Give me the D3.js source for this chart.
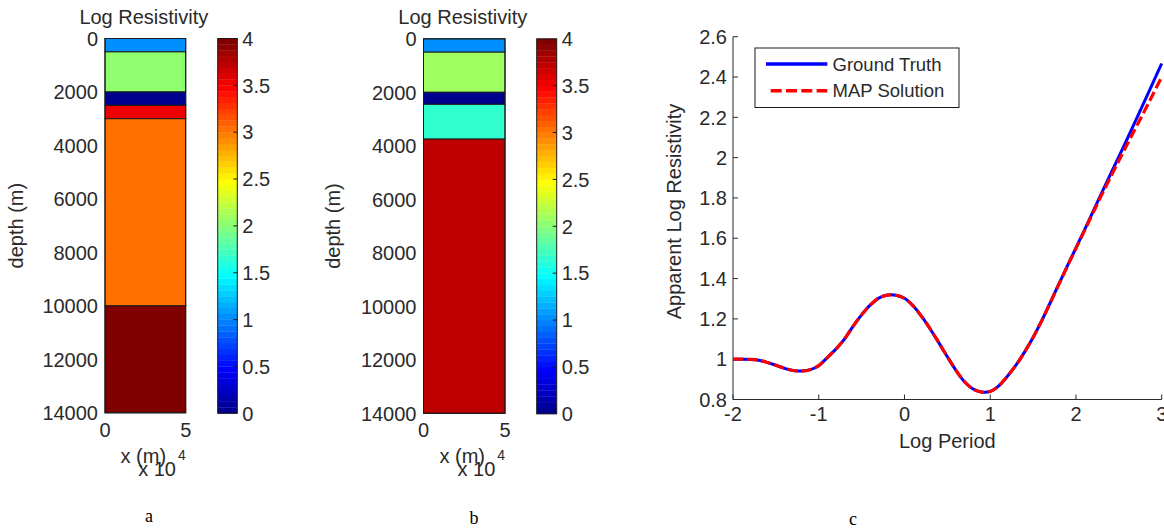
<!DOCTYPE html>
<html>
<head>
<meta charset="utf-8">
<script src="https://cdn.jsdelivr.net/npm/d3@7"></script>
<style>
  html, body { margin: 0; padding: 0; background: #fff; }
  svg { display: block; }
  text { font-family: "Liberation Sans", Arial, sans-serif; fill: #2a2a2a; }
</style>
</head>
<body>
<svg id="fig" width="1164" height="531"></svg>
<script>
// ---- layered resistivity models (depth in metres, log10 resistivity) ----
const boundariesA = [0, 500, 2000, 2500, 3000, 10000, 14000];
const logResA = [1, 2, 0, 3.5, 3, 4];
const boundariesB = [0, 500, 2000, 2450, 3750, 14000];
const logResB = [1, 2.1, 0, 1.65, 3.7];

const depthTicks = [0, 2000, 4000, 6000, 8000, 10000, 12000, 14000];
const widthTicks = [0, 50000];            // shown as 0 and 5 (x 10^4)
const colorTicks = [0, 0.5, 1, 1.5, 2, 2.5, 3, 3.5, 4];

// ---- apparent resistivity sounding curves ----
const logPeriod = [
  -2.0, -1.9, -1.8, -1.7, -1.6, -1.5, -1.4, -1.3, -1.2, -1.1,
  -1.0, -0.9, -0.8, -0.7, -0.6, -0.5, -0.4, -0.3, -0.2, -0.1,
   0.0,  0.1,  0.2,  0.3,  0.4,  0.5,  0.6,  0.7,  0.8,  0.9,
   1.0,  1.1,  1.2,  1.3,  1.4,  1.5,  1.6,  1.7,  1.8,  1.9,
   2.0,  2.1,  2.2,  2.3,  2.4,  2.5,  2.6,  2.7,  2.8,  2.9, 3.0
];
const groundTruth = [
  1.000, 1.000, 0.999, 0.995, 0.984, 0.970, 0.955, 0.944, 0.941, 0.948,
  0.968, 1.008, 1.050, 1.100, 1.163, 1.220, 1.268, 1.303, 1.318, 1.317,
  1.302, 1.265, 1.212, 1.150, 1.082, 1.012, 0.945, 0.888, 0.852, 0.837,
  0.840, 0.868, 0.915, 0.970, 1.035, 1.108, 1.190, 1.280, 1.372, 1.463,
  1.552, 1.642, 1.733, 1.825, 1.915, 2.005, 2.095, 2.187, 2.280, 2.373, 2.467
];
const mapSolution = [
  1.000, 1.000, 0.999, 0.995, 0.984, 0.970, 0.955, 0.944, 0.941, 0.948,
  0.968, 1.008, 1.050, 1.100, 1.163, 1.220, 1.268, 1.303, 1.318, 1.317,
  1.302, 1.265, 1.212, 1.150, 1.082, 1.012, 0.945, 0.888, 0.852, 0.837,
  0.840, 0.868, 0.915, 0.970, 1.035, 1.108, 1.190, 1.280, 1.371, 1.461,
  1.550, 1.638, 1.727, 1.815, 1.900, 1.985, 2.068, 2.150, 2.232, 2.316, 2.400
];
const periodTicks = [-2, -1, 0, 1, 2, 3];
const appResTicks = [0.8, 1, 1.2, 1.4, 1.6, 1.8, 2, 2.2, 2.4, 2.6];
const legendLabels = ["Ground Truth", "MAP Solution"];

const svg = d3.select("#fig");
const ink = "#2a2a2a";
const FS = 20;

// MATLAB-style jet colormap with 64 entries
function jetTable(m) {
  const n = Math.ceil(m / 4);
  const u = [];
  for (let i = 1; i <= n; i++) u.push(i / n);
  for (let i = 1; i <= n - 1; i++) u.push(1);
  for (let i = n; i >= 1; i--) u.push(i / n);
  const gOff = Math.ceil(n / 2) - (m % 4 === 1 ? 1 : 0);
  const J = Array.from({length: m}, () => [0, 0, 0]);
  u.forEach((val, k) => {
    const g = gOff + k + 1, r = g + n, b = g - n;
    if (r >= 1 && r <= m) J[r - 1][0] = val;
    if (g >= 1 && g <= m) J[g - 1][1] = val;
    if (b >= 1 && b <= m) J[b - 1][2] = val;
  });
  return J.map(c => d3.rgb(c[0] * 255, c[1] * 255, c[2] * 255).toString());
}
const jet = jetTable(64);
const cmin = 0, cmax = 4;
const colorOf = v => jet[Math.min(63, Math.max(0, Math.floor((v - cmin) / (cmax - cmin) * 64)))];

// ---- one layered-model panel with its colorbar ----
function modelPanel(cfg, bounds, vals) {
  const x = d3.scaleLinear().domain([0, 50000]).range([cfg.x0, cfg.x1]);
  const y = d3.scaleLinear().domain([0, 14000]).range([cfg.y0, cfg.y1]);
  const g = svg.append("g");

  const layers = vals.map((v, i) => ({top: bounds[i], bot: bounds[i + 1], v}));
  g.selectAll("rect.layer").data(layers).join("rect")
    .attr("class", "layer")
    .attr("x", x(0)).attr("width", x(50000) - x(0))
    .attr("y", d => y(d.top)).attr("height", d => y(d.bot) - y(d.top))
    .attr("fill", d => colorOf(d.v))
    .attr("stroke", "#1a1a1a").attr("stroke-width", 1);

  g.append("rect")
    .attr("x", x(0)).attr("y", y(0))
    .attr("width", x(50000) - x(0)).attr("height", y(14000) - y(0))
    .attr("fill", "none").attr("stroke", "#1a1a1a").attr("stroke-width", 1);

  // depth ticks
  g.selectAll("text.ytick").data(depthTicks).join("text")
    .attr("class", "ytick")
    .attr("x", x(0) - 7).attr("y", d => y(d)).attr("dy", "0.36em")
    .attr("text-anchor", "end").attr("font-size", FS)
    .text(d => d);

  // horizontal ticks
  g.selectAll("text.xtick").data(widthTicks).join("text")
    .attr("class", "xtick")
    .attr("x", d => x(d)).attr("y", y(14000) + 24)
    .attr("text-anchor", "middle").attr("font-size", FS)
    .text(d => d / 1e4);

  const xc = (x(0) + x(50000)) / 2;
  g.append("text").attr("x", xc - 1.5).attr("y", 24)
    .attr("text-anchor", "middle").attr("font-size", FS).text("Log Resistivity");
  g.append("text")
    .attr("transform", `translate(${cfg.ylabX},${(y(0) + y(14000)) / 2}) rotate(-90)`)
    .attr("text-anchor", "middle").attr("font-size", FS).text("depth (m)");
  g.append("text").attr("x", xc - 2).attr("y", 463)
    .attr("text-anchor", "middle").attr("font-size", FS).text("x (m)");
  const mult = g.append("text").attr("x", x(50000) - 47.5).attr("y", 476).attr("font-size", FS);
  mult.append("tspan").text("x 10");
  mult.append("tspan").attr("dy", -16).attr("dx", 2).attr("font-size", 14).text("4");

  // colorbar
  const cy = d3.scaleLinear().domain([cmin, cmax]).range([cfg.y1 + 0.5, cfg.y0]);
  const steps = d3.range(64).map(i => ({lo: i / 16, hi: (i + 1) / 16, c: jet[i]}));
  g.selectAll("rect.cb").data(steps).join("rect")
    .attr("class", "cb")
    .attr("x", cfg.cb0).attr("width", cfg.cb1 - cfg.cb0)
    .attr("y", d => cy(d.hi)).attr("height", d => cy(d.lo) - cy(d.hi) + 0.3)
    .attr("fill", d => d.c);
  g.append("rect")
    .attr("x", cfg.cb0).attr("y", cy(cmax))
    .attr("width", cfg.cb1 - cfg.cb0).attr("height", cy(cmin) - cy(cmax))
    .attr("fill", "none").attr("stroke", "#1a1a1a").attr("stroke-width", 1);
  g.selectAll("line.cbt").data(colorTicks.slice(1, -1)).join("line")
    .attr("class", "cbt")
    .attr("x1", cfg.cb1 - 4).attr("x2", cfg.cb1)
    .attr("y1", d => cy(d)).attr("y2", d => cy(d))
    .attr("stroke", "#1a1a1a").attr("stroke-width", 1);
  g.selectAll("text.cbl").data(colorTicks).join("text")
    .attr("class", "cbl")
    .attr("x", cfg.cb1 + 5).attr("y", d => cy(d)).attr("dy", "0.36em")
    .attr("font-size", FS).text(d => d);

  svg.append("text").attr("x", cfg.letterX).attr("y", cfg.letterY)
    .attr("text-anchor", "middle").attr("font-size", 18)
    .style("font-family", "'Liberation Serif', 'Times New Roman', serif")
    .style("fill", "#000")
    .text(cfg.letter);
}

modelPanel({x0: 105, x1: 185.7, y0: 38.5, y1: 412.8, cb0: 217.7, cb1: 237.3,
            ylabX: 23, letter: "a", letterX: 149, letterY: 522}, boundariesA, logResA);
modelPanel({x0: 423.5, x1: 505, y0: 38.8, y1: 413.3, cb0: 536.7, cb1: 556.7,
            ylabX: 340, letter: "b", letterX: 474, letterY: 524}, boundariesB, logResB);

// ---- apparent resistivity panel ----
(function () {
  const x = d3.scaleLinear().domain([-2, 3]).range([733, 1161.7]);
  const y = d3.scaleLinear().domain([0.8, 2.6]).range([399.5, 36.7]);
  const g = svg.append("g");

  g.append("line").attr("x1", x(-2)).attr("x2", x(3)).attr("y1", y(0.8)).attr("y2", y(0.8))
    .attr("stroke", ink).attr("stroke-width", 1);
  g.append("line").attr("x1", x(-2)).attr("x2", x(-2)).attr("y1", y(0.8)).attr("y2", y(2.6))
    .attr("stroke", ink).attr("stroke-width", 1);

  g.selectAll("line.xt").data(periodTicks).join("line").attr("class", "xt")
    .attr("x1", d => x(d)).attr("x2", d => x(d))
    .attr("y1", y(0.8)).attr("y2", y(0.8) - 5)
    .attr("stroke", ink);
  g.selectAll("line.yt").data(appResTicks).join("line").attr("class", "yt")
    .attr("x1", x(-2)).attr("x2", x(-2) + 5)
    .attr("y1", d => y(d)).attr("y2", d => y(d))
    .attr("stroke", ink);

  g.selectAll("text.xl").data(periodTicks).join("text").attr("class", "xl")
    .attr("x", d => x(d)).attr("y", y(0.8) + 21)
    .attr("text-anchor", "middle").attr("font-size", FS).text(d => d);
  g.selectAll("text.yl").data(appResTicks).join("text").attr("class", "yl")
    .attr("x", x(-2) - 6).attr("y", d => y(d)).attr("dy", "0.36em")
    .attr("text-anchor", "end").attr("font-size", FS).text(d => d);

  g.append("text").attr("x", (x(-2) + x(3)) / 2).attr("y", 448)
    .attr("text-anchor", "middle").attr("font-size", FS).text("Log Period");
  g.append("text")
    .attr("transform", `translate(681,211.5) rotate(-90)`)
    .attr("text-anchor", "middle").attr("font-size", FS).text("Apparent Log Resistivity");

  const line = d3.line().x(d => x(d[0])).y(d => y(d[1])).curve(d3.curveCatmullRom);
  g.append("path").datum(logPeriod.map((p, i) => [p, groundTruth[i]]))
    .attr("d", line).attr("fill", "none").attr("stroke", "#0000ff").attr("stroke-width", 3);
  g.append("path").datum(logPeriod.map((p, i) => [p, mapSolution[i]]))
    .attr("d", line).attr("fill", "none").attr("stroke", "#ff0000").attr("stroke-width", 3.2)
    .attr("stroke-dasharray", "10,4");

  // legend
  const lg = g.append("g");
  lg.append("rect").attr("x", 755).attr("y", 48).attr("width", 204).attr("height", 59.5)
    .attr("fill", "#fff").attr("stroke", "#1a1a1a").attr("stroke-width", 1);
  const rows = [{c: "#0000ff", dash: null, y: 64}, {c: "#ff0000", dash: "11,4.3", y: 90.7}];
  rows.forEach((r, i) => {
    lg.append("line").attr("x1", i ? 770.7 : 766).attr("x2", 827.3)
      .attr("y1", r.y).attr("y2", r.y)
      .attr("stroke", r.c).attr("stroke-width", 3.5)
      .attr("stroke-dasharray", r.dash);
    lg.append("text").attr("x", 832.5).attr("y", r.y).attr("dy", "0.36em")
      .attr("font-size", 18.5).text(legendLabels[i]);
  });

  svg.append("text").attr("x", 853).attr("y", 525)
    .attr("text-anchor", "middle").attr("font-size", 18)
    .style("font-family", "'Liberation Serif', 'Times New Roman', serif")
    .style("fill", "#000").text("c");
})();
</script>
</body>
</html>
